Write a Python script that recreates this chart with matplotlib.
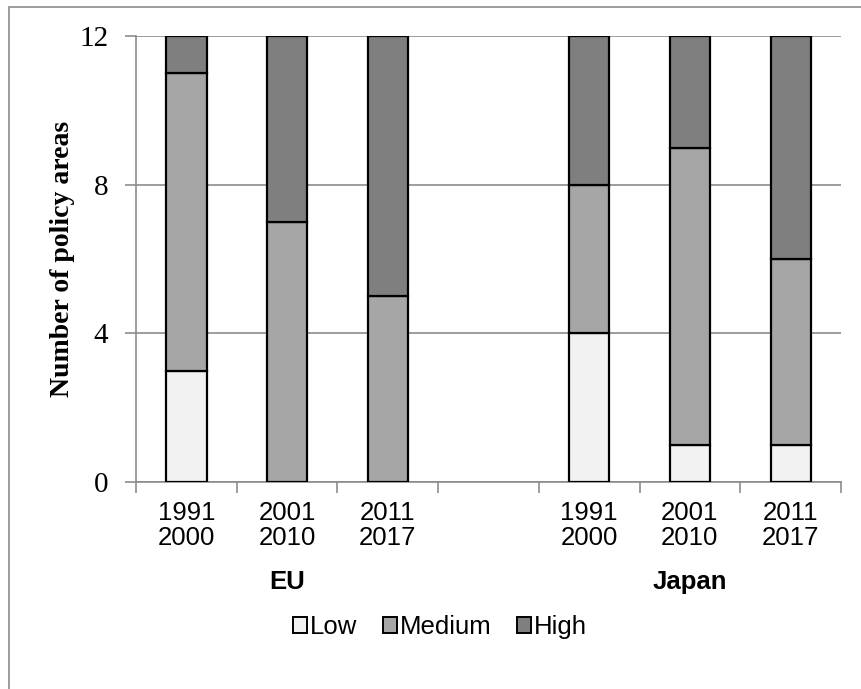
import numpy as np
import matplotlib.pyplot as plt
from matplotlib.patches import Rectangle

# data (slot 3 is the empty gap between the groups)
periods = ["1991\n2000", "2001\n2010", "2011\n2017", "", "1991\n2000", "2001\n2010", "2011\n2017"]
groups = ["EU", "Japan"]
low = [3, 0, 0, 0, 4, 1, 1]
medium = [8, 7, 5, 0, 4, 8, 5]
high = [1, 5, 7, 0, 4, 3, 6]
has_bar = [1, 1, 1, 0, 1, 1, 1]

colors = {"Low": "#f2f2f2", "Medium": "#a6a6a6", "High": "#7f7f7f"}

fig = plt.figure(figsize=(8.61, 6.89), dpi=100)
ax = fig.add_axes([136/861, 1-482/689, 705/861, 446/689])

# outer frame of the chart area
fig.patches.append(Rectangle((9/861, -0.1), 1.2, 1-7/689+0.1, transform=fig.transFigure,
                             fill=False, edgecolor="#8c8c8c", lw=1.2, zorder=0))

x = np.arange(len(periods))
idx = [i for i in x if has_bar[i]]
lo = np.array(low)[idx]
me = np.array(medium)[idx]
hi = np.array(high)[idx]
w = 0.4
kw = dict(width=w, edgecolor="black", linewidth=1.6, zorder=3)
b1 = ax.bar(idx, lo, color=colors["Low"], label="Low", **kw)
b2 = ax.bar(idx, me, bottom=lo, color=colors["Medium"], label="Medium", **kw)
b3 = ax.bar(idx, hi, bottom=lo+me, color=colors["High"], label="High", **kw)

ax.set_xlim(-0.5, 6.5)
ax.set_ylim(0, 12)
ax.set_yticks([0, 4, 8, 12])
ax.yaxis.grid(True, color="#8c8c8c", lw=1.2, zorder=0)
ax.set_axisbelow(True)
for s in ["top", "right"]:
    ax.spines[s].set_visible(False)
for s in ["left", "bottom"]:
    ax.spines[s].set_color("#8c8c8c")
    ax.spines[s].set_linewidth(1.2)

ax.tick_params(axis="y", length=8, width=1.2, color="#8c8c8c", pad=12,
               labelsize=21)
for t in ax.get_yticklabels():
    t.set_fontfamily("Liberation Serif")

# tick marks at category boundaries, labels in between
ax.set_xticks(np.arange(-0.5, 7.0, 1.0))
ax.set_xticklabels([])
ax.tick_params(axis="x", length=8, width=1.2, color="#8c8c8c")
for i, p in enumerate(periods):
    ax.text(i, -0.5, p, ha="center", va="top", fontsize=18.5,
            family="Liberation Sans", linespacing=1.05)

ax.text(1, -2.36, groups[0], ha="center", va="top", fontsize=18.5,
        family="Liberation Sans", weight="bold")
ax.text(5, -2.36, groups[1], ha="center", va="top", fontsize=18.5,
        family="Liberation Sans", weight="bold")

ax.set_ylabel("Number of policy areas", family="Liberation Serif",
              weight="bold", fontsize=20, labelpad=3)

leg = fig.legend(handles=[b1, b2, b3], loc="center", bbox_to_anchor=(440/861, 1-627/689),
                 ncol=3, frameon=False, handlelength=0.55, handleheight=0.55,
                 handletextpad=0.1, columnspacing=1.0,
                 prop={"family": "Liberation Sans", "size": 18.5})
for h in leg.legend_handles:
    h.set_linewidth(1.4)

fig.savefig("out.png", dpi=100)
